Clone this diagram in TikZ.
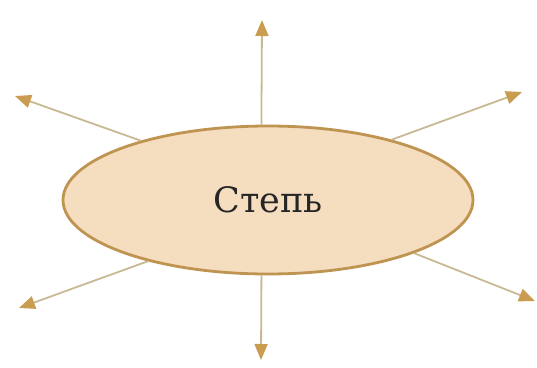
\documentclass[tikz,border=0pt]{standalone}
\usepackage{fontspec}
\setmainfont{DejaVu Serif}
\usetikzlibrary{arrows.meta, shapes.geometric}
\definecolor{steppefill}{HTML}{F5DDBF}
\definecolor{steppeedge}{HTML}{BF9450}
\definecolor{rayline}{HTML}{C9B894}
\definecolor{rayhead}{HTML}{C99C50}

\begin{document}
\begin{tikzpicture}[x=1pt,y=-1pt,
    ray/.style={draw=rayline,line width=1.8pt,-{Triangle[length=16pt,width=13pt,color=rayhead]}}]
    \useasboundingbox (0,0) rectangle (537,367);
    \node[ellipse,draw=steppeedge,line width=2.8pt,fill=steppefill,minimum width=410pt,minimum height=148pt,
      font=\fontsize{35}{42}\selectfont,text=black!85] (steppe) at (268,200) {Степь};
    \coordinate (tipN) at (262,20);
    \coordinate (tipS) at (261,360);
    \coordinate (tipNW) at (15,96);
    \coordinate (tipNE) at (522,92);
    \coordinate (tipSW) at (19,308);
    \coordinate (tipSE) at (535,301);
    \draw[ray] (steppe.95) -- (tipN);
    \draw[ray] (steppe.265) -- (tipS);
    \draw[ray] (steppe.155) -- (tipNW);
    \draw[ray] (steppe.26) -- (tipNE);
    \draw[ray] (steppe.207) -- (tipSW);
    \draw[ray] (steppe.340) -- (tipSE);
  \end{tikzpicture}
\end{document}
